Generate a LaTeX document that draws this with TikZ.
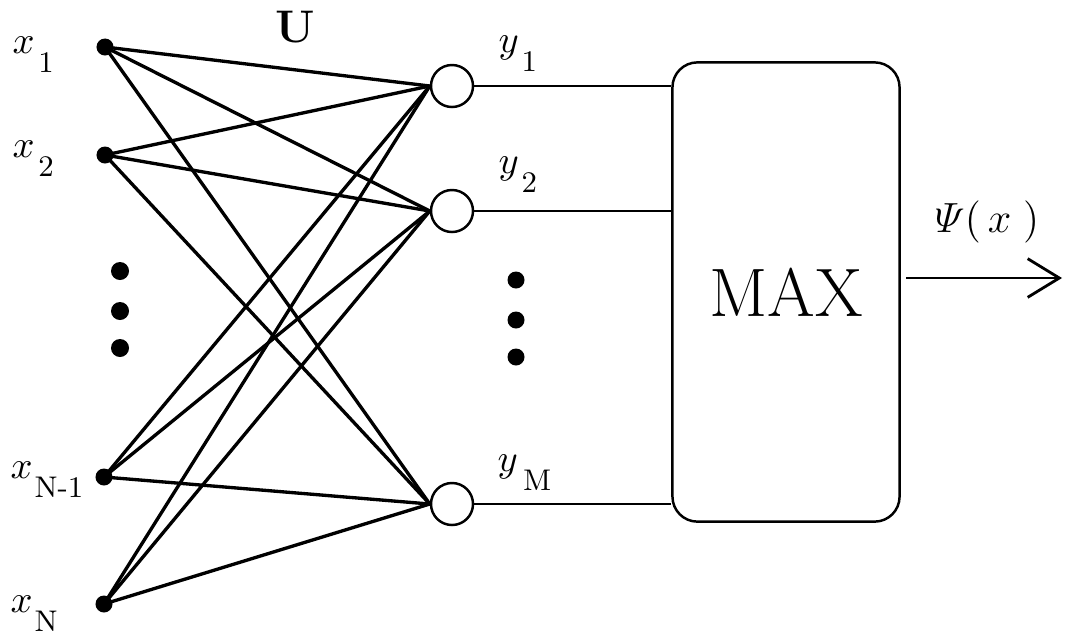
\documentclass[tikz,border=0pt]{standalone}
\usepackage{amsmath}
\usepackage{tikz}
\usetikzlibrary{arrows.meta,positioning,calc}
\newcommand\sublbl[3]{\makebox[#3][l]{$#1$}\raisebox{-5.5pt}{\fontsize{8.5}{10}\selectfont #2}}

\begin{document}
\begin{tikzpicture}[x=0.01cm,y=-0.01cm,
    indot/.style={circle,fill=black,inner sep=0pt,minimum size=0.17cm},
    gapdot/.style={circle,fill=black,inner sep=0pt,minimum size=0.18cm},
    unit/.style={circle,draw=black,line width=0.7pt,fill=white,inner sep=0pt,minimum size=0.42cm},
    maxbox/.style={draw=black,line width=0.7pt,rounded corners=0.25cm,
      minimum width=2.27cm,minimum height=4.59cm,font=\fontsize{19.5}{22}\selectfont},
    lbl/.style={anchor=base west,inner sep=0pt,font=\fontsize{11}{13}\selectfont},
    wire/.style={line width=0.95pt},
    outwire/.style={line width=0.65pt}]
  \useasboundingbox (0,0) rectangle (1065,636);

  % inputs
  \node[indot] (x1) at (105,47) {};
  \node[indot] (x2) at (105,155) {};
  \node[indot] (xn1) at (104,477) {};
  \node[indot] (xn) at (104,604) {};
  \node[lbl] (lx1) at (12,53) {\sublbl{x}{1}{7.3pt}};
  \node[lbl] (lx2) at (12,157) {\sublbl{x}{2}{7.3pt}};
  \node[lbl] (lxn1) at (10,478) {\sublbl{x}{N-1}{6.8pt}};
  \node[lbl] (lxn) at (10,612) {\sublbl{x}{N}{6.8pt}};
  \foreach \k/\yy in {a/271,b/311,c/348}
    \node[gapdot] (ldot\k) at (120,\yy) {};

  % units
  \node[unit] (y1) at (452,86) {};
  \node[unit] (y2) at (452,211) {};
  \node[unit] (ym) at (452,504) {};
  \node[lbl] (ly1) at (498,52) {\sublbl{y}{1}{6.5pt}};
  \node[lbl] (ly2) at (498,173) {\sublbl{y}{2}{6.5pt}};
  \node[lbl] (lym) at (497,471) {\sublbl{y}{M}{7.2pt}};
  \foreach \k/\yy in {a/280,b/320,c/357}
    \node[gapdot,minimum size=0.17cm] (rdot\k) at (516,\yy) {};

  \foreach \i in {x1,x2,xn1,xn}
    \foreach \o in {y1,y2,ym}
      \draw[wire] (\i.center) -- (\o.west);

  \node[font=\bfseries\fontsize{13}{15}\selectfont] (U) at (295,27) {U};

  % max unit
  \node[maxbox] (max) at (786,292) {MAX};
  \foreach \o in {y1,y2,ym}
    \draw[outwire] (\o.east) -- (\o.east -| max.west);

  \coordinate (out) at (1062,278);
  \draw[outwire,shorten <=1.5pt,-{Straight Barb[length=9pt,width=11pt,line width=0.8pt]}]
    (max.east |- out) -- (out);
  \node[font=\fontsize{12}{14}\selectfont] (psi) at (987,222) {$\varPsi(\,x\;)$};
\end{tikzpicture}
\end{document}
